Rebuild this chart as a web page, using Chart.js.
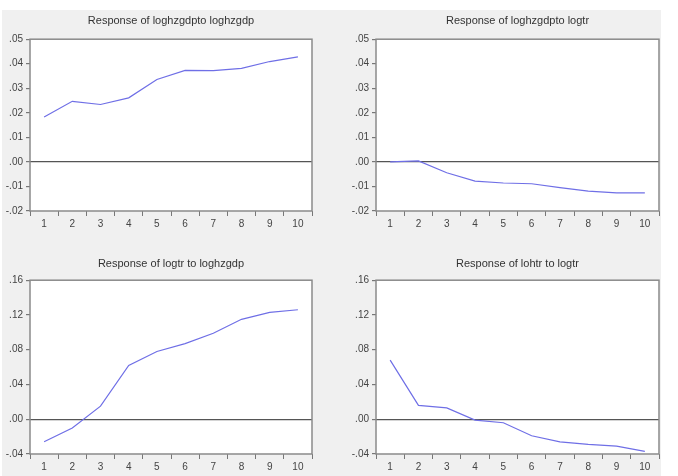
<!DOCTYPE html>
<html>
<head>
<meta charset="utf-8">
<script src="https://cdn.jsdelivr.net/npm/chart.js@4/dist/chart.umd.min.js"></script>
<style>
  html, body { margin: 0; padding: 0; background: #fff; }
  #wrap { position: relative; width: 678px; height: 476px; overflow: hidden; }
  #bg { position: absolute; left: 2px; top: 10px; width: 659px; height: 466px; background: #f0f0f0; }
  canvas { position: absolute; }
</style>
</head>
<body>
<div id="wrap">
  <div id="bg"></div>
  <canvas id="c1" width="339" height="236" style="left:0;top:0"></canvas>
  <canvas id="c2" width="339" height="236" style="left:339px;top:0"></canvas>
  <canvas id="c3" width="339" height="240" style="left:0;top:236px"></canvas>
  <canvas id="c4" width="339" height="240" style="left:339px;top:236px"></canvas>
</div>
<script>
const periods = ['1', '2', '3', '4', '5', '6', '7', '8', '9', '10'];

const titles = [
    'Response of loghzgdpto loghzgdp',
    'Response of loghzgdpto logtr',
    'Response of logtr to loghzgdp',
    'Response of lohtr to logtr'];

const gdpToGdp = [0.0183, 0.0247, 0.0234, 0.0261, 0.0336, 0.0373, 0.0372, 0.0381, 0.0409, 0.0428];
const gdpToTr = [0.0000, 0.0004, -0.0044, -0.0078, -0.0086, -0.0089, -0.0105, -0.0119, -0.0126, -0.0126];
const trToGdp = [-0.026, -0.010, 0.015, 0.062, 0.078, 0.087, 0.099, 0.115, 0.123, 0.126];
const trToTr = [0.068, 0.016, 0.013, -0.001, -0.004, -0.019, -0.026, -0.029, -0.031, -0.037];

// y ranges per row: min, max, step
const topRange = [-0.02, 0.05, 0.01];
const bottomRange = [-0.04, 0.16, 0.04];

const FONT = "'Liberation Sans', Arial, sans-serif";

// white plot area + grey box around it
const boxPlugin = {
    id: 'box',
    beforeDraw(chart) {
        const a = chart.chartArea;
        const ctx = chart.ctx;
        ctx.save();
        ctx.fillStyle = '#fff';
        ctx.fillRect(a.left, a.top, a.right - a.left, a.bottom - a.top);
        ctx.restore();
    },
    afterDraw(chart) {
        const a = chart.chartArea;
        const ctx = chart.ctx;
        ctx.save();
        ctx.strokeStyle = '#8a8a8a';
        ctx.lineWidth = 1.5;
        ctx.strokeRect(a.left, a.top, a.right - a.left, a.bottom - a.top);
        ctx.restore();
    }
};

function fmt(v) {
    let s = Math.abs(v) < 1e-9 ? '0.00' : Number(v).toFixed(2);
    return s.replace(/^(-?)0\./, '$1.');
}

function makeChart(id, title, values, range, cfg) {
    return new Chart(document.getElementById(id), {
        type: 'line',
        data: {
            labels: periods,
            datasets: [{
                data: values,
                borderColor: '#6f6fe6',
                borderWidth: 1.2,
                pointRadius: 0,
                tension: 0,
                fill: false
            }]
        },
        options: {
            responsive: false,
            animation: false,
            devicePixelRatio: 1,
            layout: {padding: {left: 0, right: cfg.right, top: 0, bottom: 0}},
            plugins: {
                legend: {display: false},
                tooltip: {enabled: false},
                title: {
                    display: true,
                    text: title,
                    fullSize: false,
                    color: '#333',
                    font: {family: FONT, size: 11, weight: 'normal'},
                    padding: {top: cfg.titleTop, bottom: cfg.titleBottom}
                }
            },
            scales: {
                x: {
                    type: 'category',
                    offset: true,
                    afterFit: s => { s.height = cfg.xHeight; },
                    grid: {
                        offset: true,
                        drawOnChartArea: false,
                        tickLength: 5,
                        tickColor: '#777'
                    },
                    border: {display: false},
                    ticks: {
                        color: '#444',
                        padding: 2,
                        maxRotation: 0,
                        autoSkip: false,
                        font: {family: FONT, size: 10}
                    }
                },
                y: {
                    min: range[0],
                    max: range[1],
                    afterFit: s => { s.width = cfg.yWidth; },
                    grid: {
                        color: c => (c.tick && Math.abs(c.tick.value) < 1e-9) ? '#555' : 'transparent',
                        lineWidth: 1.2,
                        tickColor: '#777',
                        tickLength: 4
                    },
                    border: {display: false},
                    ticks: {
                        stepSize: range[2],
                        color: '#444',
                        padding: 3,
                        font: {family: FONT, size: 10},
                        callback: v => fmt(v)
                    }
                }
            }
        },
        plugins: [boxPlugin]
    });
}

const topLeft = {right: 27, yWidth: 30, xHeight: 25, titleTop: 14, titleBottom: 12};
const topRight = {right: 19, yWidth: 37, xHeight: 25, titleTop: 14, titleBottom: 12};
const botLeft = {right: 27, yWidth: 30, xHeight: 22, titleTop: 21, titleBottom: 10};
const botRight = {right: 19, yWidth: 37, xHeight: 22, titleTop: 21, titleBottom: 10};

makeChart('c1', titles[0], gdpToGdp, topRange, topLeft);
makeChart('c2', titles[1], gdpToTr, topRange, topRight);
makeChart('c3', titles[2], trToGdp, bottomRange, botLeft);
makeChart('c4', titles[3], trToTr, bottomRange, botRight);
</script>
</body>
</html>
